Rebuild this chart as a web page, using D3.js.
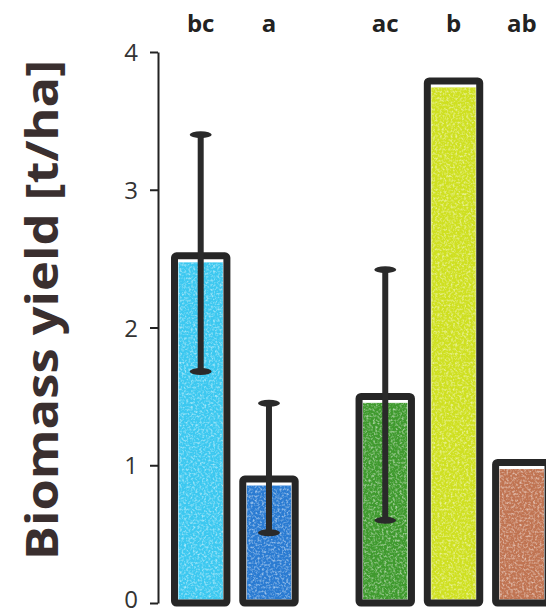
<!DOCTYPE html>
<html>
<head>
<meta charset="utf-8">
<script src="https://cdn.jsdelivr.net/npm/d3@7"></script>
<style>
  html, body { margin: 0; padding: 0; background: #ffffff; }
  svg { display: block; }
</style>
</head>
<body>
<div id="chart"></div>
<script>
// Treatments, mean biomass yield (t/ha), error ranges and significance letters
const treatments = ["bc", "a", "ac", "b", "ab"];
const groups = [0, 0, 1, 1, 1];
const yieldMean = [2.52, 0.90, 1.50, 3.79, 1.02];
const errLow = [1.68, 0.51, 0.60, null, null];
const errHigh = [3.40, 1.45, 2.42, null, null];
const barColors = ["#3cc8f0", "#2a7bd2", "#3f9a2e", "#cfe021", "#c07452"];
const yTicks = [0, 1, 2, 3, 4];
const yLabel = "Biomass yield [t/ha]";

const width = 546, height = 614;
const svg = d3.select("#chart").append("svg")
  .attr("width", width).attr("height", height);

const defs = svg.append("defs");
// colored-pencil grain: speckled white overlay
const f = defs.append("filter").attr("id", "grain")
  .attr("x", 0).attr("y", 0).attr("width", 1).attr("height", 1);
f.append("feTurbulence").attr("type", "fractalNoise")
  .attr("baseFrequency", 0.45).attr("numOctaves", 2).attr("seed", 3).attr("result", "noise");
f.append("feColorMatrix").attr("in", "noise").attr("type", "matrix")
  .attr("values", "0 0 0 0 1  0 0 0 0 1  0 0 0 0 1  0 0 0 -2.4 1.35").attr("result", "spots");
f.append("feComposite").attr("in", "spots").attr("in2", "SourceGraphic").attr("operator", "in");

const y = d3.scaleLinear().domain([0, 4]).range([603, 52]);

// bar slots: band scale across treatments, with a gap between the two groups
const groupGap = 48;
const x = d3.scaleBand().domain(treatments).range([171, 171 + 5 * 66.5]).paddingInner(0.13).paddingOuter(0);
const bx = (d, i) => x(d) + groups[i] * groupGap;
const bw = x.bandwidth() - 7;

// axis
const axis = svg.append("g")
  .attr("transform", "translate(158,0)")
  .call(d3.axisLeft(y).tickValues(yTicks).tickFormat(d3.format("d"))
    .tickSize(8).tickSizeOuter(0).tickPadding(12));
axis.select(".domain").attr("stroke", "#222").attr("stroke-width", 2);
axis.selectAll(".tick line").attr("stroke", "#222").attr("stroke-width", 2);
axis.selectAll(".tick text")
  .attr("fill", "#333").attr("font-family", "'Open Sans', sans-serif")
  .attr("font-size", 24).attr("dy", d => d === 0 ? "0.2em" : "0.36em");

// bars
const bars = svg.append("g").selectAll("g").data(treatments).join("g");

bars.append("rect")
  .attr("x", (d, i) => bx(d, i) + 3.5 + 4)
  .attr("y", (d, i) => y(yieldMean[i]) + 3.5 + 3)
  .attr("width", bw - 8)
  .attr("height", (d, i) => y(0) - y(yieldMean[i]) - 10)
  .attr("fill", (d, i) => barColors[i]);

bars.append("rect")
  .attr("x", (d, i) => bx(d, i) + 3.5 + 4)
  .attr("y", (d, i) => y(yieldMean[i]) + 3.5 + 3)
  .attr("width", bw - 8)
  .attr("height", (d, i) => y(0) - y(yieldMean[i]) - 10)
  .attr("fill", "#fff")
  .attr("opacity", 0.55)
  .attr("filter", "url(#grain)");

bars.append("rect")
  .attr("x", (d, i) => bx(d, i) + 3.5)
  .attr("y", (d, i) => y(yieldMean[i]))
  .attr("width", bw)
  .attr("height", (d, i) => y(0) - y(yieldMean[i]))
  .attr("rx", 2)
  .attr("fill", "none")
  .attr("stroke", "#262626")
  .attr("stroke-width", 7)
  .attr("stroke-linejoin", "round");

// error bars
const eb = svg.append("g").selectAll("g")
  .data(treatments.map((t, i) => ({ t, i })).filter(d => errLow[d.i] !== null))
  .join("g");
const cx = d => bx(d.t, d.i) + 3.5 + bw / 2;
eb.append("line")
  .attr("x1", cx).attr("x2", cx)
  .attr("y1", d => y(errLow[d.i])).attr("y2", d => y(errHigh[d.i]))
  .attr("stroke", "#2a2a2a").attr("stroke-width", 6);
[errLow, errHigh].forEach(arr => {
  eb.append("ellipse")
    .attr("cx", cx).attr("cy", d => y(arr[d.i]))
    .attr("rx", 11).attr("ry", 3.5)
    .attr("fill", "#2a2a2a");
});

// significance letters
svg.append("g").selectAll("text").data(treatments).join("text")
  .attr("x", (d, i) => bx(d, i) + 3.5 + bw / 2)
  .attr("y", 32)
  .attr("text-anchor", "middle")
  .attr("font-family", "'Open Sans', sans-serif")
  .attr("font-weight", 700)
  .attr("font-size", 24)
  .attr("fill", "#222")
  .text(d => d);

// y label
svg.append("text")
  .attr("transform", "translate(58,310) rotate(-90)")
  .attr("text-anchor", "middle")
  .attr("font-family", "'Open Sans', sans-serif")
  .attr("font-weight", 700)
  .attr("font-size", 45)
  .attr("textLength", 500)
  .attr("lengthAdjust", "spacingAndGlyphs")
  .attr("fill", "#3a2f2f")
  .text(yLabel);
</script>
</body>
</html>
